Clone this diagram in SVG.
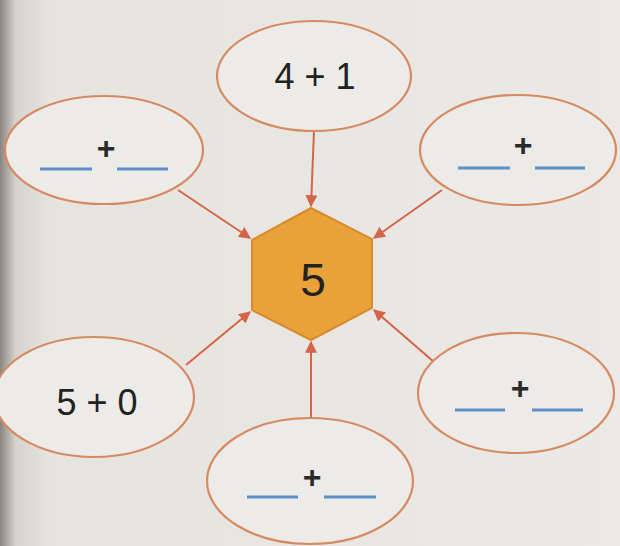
<svg xmlns="http://www.w3.org/2000/svg" width="620" height="546" viewBox="0 0 620 546">
<defs>
<linearGradient id="shade" x1="0" y1="0" x2="1" y2="0">
<stop offset="0" stop-color="#8a8580"/>
<stop offset="0.025" stop-color="#d6d3cd"/>
<stop offset="0.08" stop-color="#e6e4df"/>
<stop offset="1" stop-color="#ebe9e5"/>
</linearGradient>
<marker id="arr" viewBox="0 0 10 10" refX="9" refY="5" markerWidth="6" markerHeight="6" orient="auto" markerUnits="strokeWidth">
<path d="M0,0 L10,5 L0,10 z" fill="#d4644a"/>
</marker>
</defs>
<style>
.oval{fill:#ecebe7;stroke:#d68a62;stroke-width:2.2}
.conn{stroke:#d4644a;stroke-width:2;fill:none;marker-end:url(#arr)}
.num{font-family:"Liberation Sans",Arial,sans-serif;font-size:36px;fill:#222;text-anchor:middle}
.plus{font-family:"Liberation Sans",Arial,sans-serif;font-size:32px;font-weight:bold;fill:#2a2a2a;text-anchor:middle}
.blank{stroke:#5d8fc8;stroke-width:3}
</style>
<rect width="620" height="546" fill="url(#shade)"/>
<g id="connectors">
<line class="conn" x1="314" y1="131" x2="311" y2="206"/>
<line class="conn" x1="178" y1="190" x2="250" y2="238"/>
<line class="conn" x1="442" y1="190" x2="374" y2="238"/>
<line class="conn" x1="186" y1="365" x2="250" y2="312"/>
<line class="conn" x1="434" y1="362" x2="374" y2="310"/>
<line class="conn" x1="311" y1="417" x2="311" y2="342"/>
</g>
<g id="center">
<polygon points="311,208 372,239 372,308 311,340 252,310 252,240" fill="#e9a13a" stroke="#d98a2e" stroke-width="2"/>
<text class="num" x="313" y="296" style="font-size:46px">5</text>
</g>
<g id="top">
<ellipse class="oval" cx="314" cy="76" rx="97" ry="55"/>
<text class="num" x="315" y="89">4 + 1</text>
</g>
<g id="upper-left">
<ellipse class="oval" cx="104" cy="150" rx="99" ry="54"/>
<text class="plus" x="106" y="159">+</text>
<line class="blank" x1="40" y1="169" x2="92" y2="169"/>
<line class="blank" x1="117" y1="169" x2="168" y2="169"/>
</g>
<g id="upper-right">
<ellipse class="oval" cx="518" cy="150" rx="98" ry="55"/>
<text class="plus" x="523" y="156">+</text>
<line class="blank" x1="458" y1="168" x2="510" y2="168"/>
<line class="blank" x1="535" y1="168" x2="585" y2="168"/>
</g>
<g id="lower-left">
<ellipse class="oval" cx="94" cy="397" rx="100" ry="60"/>
<text class="num" x="97" y="415">5 + 0</text>
</g>
<g id="lower-right">
<ellipse class="oval" cx="516" cy="393" rx="98" ry="60"/>
<text class="plus" x="520" y="399">+</text>
<line class="blank" x1="455" y1="410" x2="505" y2="410"/>
<line class="blank" x1="532" y1="410" x2="583" y2="410"/>
</g>
<g id="bottom">
<ellipse class="oval" cx="310" cy="481" rx="103" ry="63"/>
<text class="plus" x="312" y="488">+</text>
<line class="blank" x1="247" y1="497" x2="298" y2="497"/>
<line class="blank" x1="324" y1="497" x2="376" y2="497"/>
</g>
</svg>
